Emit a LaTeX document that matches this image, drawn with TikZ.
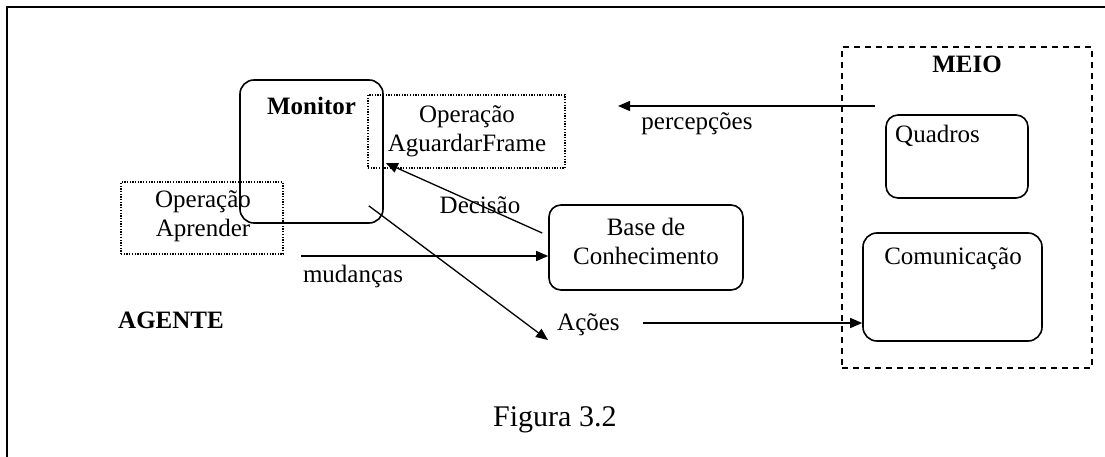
\documentclass[tikz,border=0pt]{standalone}
\usepackage{fontspec}
\setmainfont{Liberation Serif}
\usetikzlibrary{arrows.meta,calc}
\tikzset{
  txt/.style={inner sep=0pt,font=\fontsize{25}{29}\selectfont},
  btxt/.style={inner sep=0pt,font=\fontsize{25}{29}\selectfont\bfseries},
  rbox/.style={draw,line width=1.6pt,rounded corners=14pt,inner sep=0pt},
  dbox/.style={draw,line width=1.3pt,dash pattern=on 1.3pt off 1.4pt,inner sep=0pt,align=center,font=\fontsize{25}{29}\selectfont},
  meiobox/.style={draw,line width=1.5pt,dash pattern=on 6pt off 5pt,inner sep=0pt},
  arr/.style={line width=1.3pt,-{Triangle[length=12pt,width=10pt]}},
  frameline/.style={line width=1.6pt}
}
\begin{document}
\begin{tikzpicture}[x=1pt,y=-1pt]
\useasboundingbox (0,0) rectangle (1105,457);
% outer frame (top and left only)
\draw[frameline] (7,457) -- (7,7) -- (1105,7);

% boxes
\node[rbox,minimum width=143pt,minimum height=143pt] (monitor) at (311.5,151.5) {};
\node[dbox,minimum width=197pt,minimum height=73pt] (aguardar) at (466.5,131.5) {};
\node[dbox,minimum width=162pt,minimum height=72pt] (aprender) at (202,218) {};
\node[rbox,rounded corners=12pt,minimum width=194pt,minimum height=85pt] (base) at (646,247.5) {};
\node[meiobox,minimum width=250pt,minimum height=321pt] (meio) at (967,207.5) {};
\node[rbox,rounded corners=12pt,minimum width=142pt,minimum height=83pt] (quadros) at (957,156.5) {};
\node[rbox,minimum width=179pt,minimum height=108pt] (comm) at (952.5,287) {};

% texts
\node[btxt,anchor=base] (monitorlbl) at (311.5,115) {Monitor};
\node[txt,align=center] (aguardarlbl) at (467,131.6) {Operação\\AguardarFrame};
\node[txt,align=center] (aprenderlbl) at (203,216.6) {Operação\\Aprender};
\node[txt,align=center] (baselbl) at (646,241) {Base de\\Conhecimento};
\node[btxt,anchor=base] (meiolbl) at (967,73) {MEIO};
\node[txt,anchor=base west] (quadroslbl) at (895,143) {Quadros};
\node[txt,anchor=base] (commlbl) at (953,264) {Comunicação};
\node[txt,anchor=base] (perclbl) at (697,130) {percepções};
\node[txt,anchor=base] (mudlbl) at (353,282) {mudanças};
\node[txt,anchor=base] (declbl) at (480,214) {Decisão};
\node[txt,anchor=base west] (acoes) at (557,330) {Ações};
\node[btxt,anchor=base west] (agente) at (118,328) {AGENTE};
\node[inner sep=0pt,font=\fontsize{30}{36}\selectfont,anchor=base west] (fig) at (493,426) {Figura 3.2};

% connector end points
\coordinate (decstart) at ($(base.west)+(-6,-14.5)$);
\coordinate (decend) at ($(monitor.east)+(2,11.5)$);
\coordinate (acstart) at ($(monitor.south east)+(-15,-18)$);
\coordinate (acend) at ($(acoes.base west)+(-9,10)$);
\coordinate (mudstart) at (301,256);
\coordinate (comstart) at (643,323);
\coordinate (percstart) at (875,106);
\coordinate (percend) at (618,106);

% connectors
\draw[arr] (decstart) -- (decend);
\draw[arr] (acstart) -- (acend);
\draw[arr] (mudstart) -- (mudstart -| base.west);
\draw[arr] (comstart) -- (comstart -| comm.west);
\draw[arr] (percstart) -- (percend);
\end{tikzpicture}
\end{document}
